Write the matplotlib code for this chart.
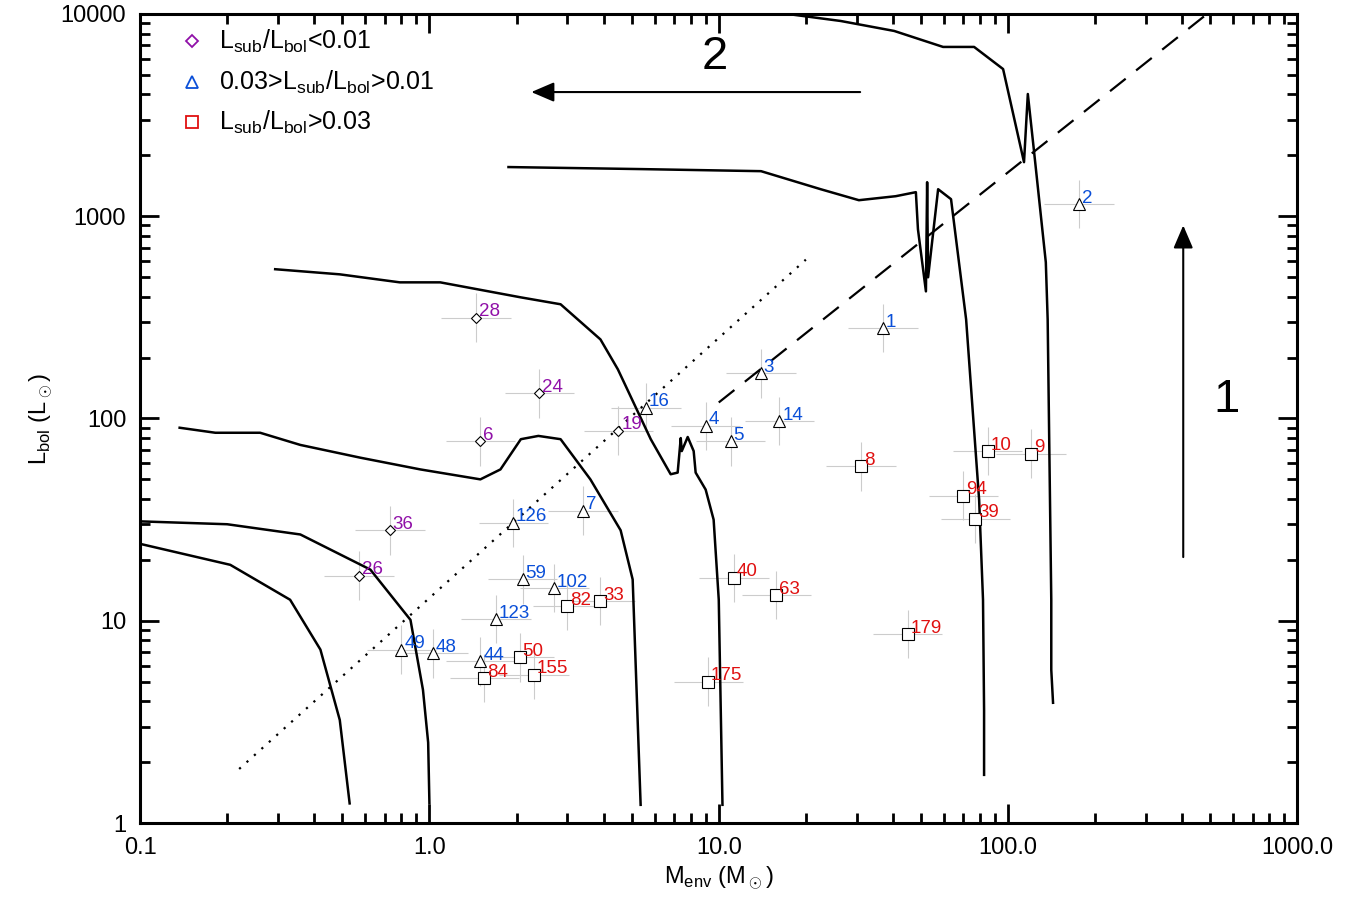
import numpy as np
import matplotlib.pyplot as plt
from matplotlib.ticker import NullFormatter

plt.rcParams['font.family'] = ['Liberation Sans', 'DejaVu Sans']
plt.rcParams['mathtext.fontset'] = 'custom'
plt.rcParams['mathtext.rm'] = 'Liberation Sans'

# sources, grouped by Lsub/Lbol
lo_id = ['28', '24', '6', '19', '36', '26']
lo_m = [1.45, 2.4, 1.5, 4.5, 0.73, 0.57]
lo_l = [315, 133, 77, 87, 28, 16.7]

mid_id = ['2', '1', '3', '16', '4', '5', '14', '7', '126', '59', '102', '123', '49', '48', '44']
mid_m = [176, 37, 14.0, 5.6, 9.0, 11.0, 16.2, 3.4, 1.95, 2.1, 2.7, 1.7, 0.8, 1.03, 1.5]
mid_l = [1150, 280, 167, 113, 92, 77, 97, 35, 30.5, 16, 14.5, 10.2, 7.2, 6.9, 6.3]

hi_id = ['10', '9', '8', '94', '39', '40', '63', '82', '33', '179', '50', '155', '84', '175']
hi_m = [85, 120, 31, 70, 77, 11.3, 15.8, 3.0, 3.9, 45, 2.05, 2.3, 1.55, 9.2]
hi_l = [69, 67, 58, 41.5, 32, 16.3, 13.4, 11.8, 12.5, 8.6, 6.6, 5.4, 5.2, 5.0]

# error bars (dex)
m_err = 0.12
l_err = 0.12

# evolutionary tracks
t1_m = [0.1, 0.2, 0.358, 0.625, 0.86, 0.95, 0.99, 1.0]
t1_l = [31, 30, 26.7, 17.9, 10.1, 4.55, 2.5, 1.25]
t2_m = [0.1, 0.205, 0.33, 0.42, 0.49, 0.53]
t2_l = [24, 18.9, 12.7, 7.2, 3.23, 1.25]
t3_m = [0.137, 0.182, 0.26, 0.358, 0.577, 0.93, 1.5, 1.76, 2.07, 2.38, 2.84, 3.6, 4.58, 5.04, 5.37]
t3_l = [90, 85, 85, 74, 64, 56, 50, 56, 79, 82, 79, 50, 28, 16, 1.23]
t4_m = [0.293, 0.49, 0.79, 1.09, 2.07, 2.84, 3.9, 4.48, 5.82, 6.82, 7.21, 7.39, 7.45, 7.81, 8.19,
        8.32, 9.01, 9.6, 10.0, 10.3]
t4_l = [547, 516, 471, 471, 397, 367, 246, 175, 79, 53, 54, 80, 69, 81, 69, 54, 44.5, 31.6, 12.7, 1.23]
t5_m = [1.876, 5.37, 14.0, 22.5, 30.5, 40.9, 48, 48.8, 52, 52.5, 52.9, 57.3, 63.5, 71.6, 79.4,
        81.9, 82.6, 82.6]
t5_l = [1750, 1710, 1670, 1360, 1200, 1256, 1315, 862, 425, 1473, 499, 1360, 1214, 309, 39.7,
        12.7, 3.6, 1.73]
t6_m = [8.66, 16.4, 26.4, 40.4, 59.6, 76.3, 96.1, 113.5, 117, 123, 135, 137, 141, 141, 143]
t6_l = [10590, 10100, 9230, 8240, 6870, 6870, 5340, 1850, 4020, 2075, 592, 309, 12.7, 5.72, 3.93]

dash_m = [10, 500]
dash_l = [120, 10300]
dot_m = [0.22, 20]
dot_l = [1.85, 610]

fig = plt.figure(figsize=(13.6, 9.06), dpi=100)
ax = fig.add_axes([0.103, 0.0916, 0.851, 0.893])
ax.set_xscale('log')
ax.set_yscale('log')
ax.set_xlim(0.1, 1000)
ax.set_ylim(1, 10000)

for m, l in [(t1_m, t1_l), (t2_m, t2_l), (t3_m, t3_l), (t4_m, t4_l), (t5_m, t5_l), (t6_m, t6_l)]:
    ax.plot(m, l, color='k', lw=1.8)
ax.plot(dash_m, dash_l, color='k', lw=1.6, dashes=(9, 6))
ax.plot(dot_m, dot_l, color='k', lw=1.6, ls=(0, (1, 3.5)))

groups = [(lo_id, lo_m, lo_l, 'D', 5, '#9010a8'),
          (mid_id, mid_m, mid_l, '^', 8, '#0a4fd8'),
          (hi_id, hi_m, hi_l, 's', 8, '#e01010')]
for ids, m, l, mk, ms, col in groups:
    m = np.array(m)
    l = np.array(l)
    xe = [m - m / 10**m_err, m * 10**m_err - m]
    ye = [l - l / 10**l_err, l * 10**l_err - l]
    ax.errorbar(m, l, xerr=xe, yerr=ye, fmt='none', ecolor='#cccccc', elinewidth=0.8, zorder=1)
    ax.plot(m, l, ls='none', marker=mk, ms=ms, mfc='white', mec='k', mew=0.8, zorder=3)
    for s, x, y in zip(ids, m, l):
        ax.annotate(s, (x, y), xytext=(2, 1), textcoords='offset points', color=col,
                    fontsize=13.5, zorder=4)

# legend
leg = [('D', '#9010a8', 6, r'L$_{\rm sub}$/L$_{\rm bol}$<0.01'),
       ('^', '#0a4fd8', 9, r'0.03>L$_{\rm sub}$/L$_{\rm bol}$>0.01'),
       ('s', '#e01010', 9, r'L$_{\rm sub}$/L$_{\rm bol}$>0.03')]
for i, (mk, col, ms, txt) in enumerate(leg):
    yy = 0.966 - i * 0.05
    ax.plot([0.045], [yy], transform=ax.transAxes, marker=mk, ms=ms, mfc='none', mec=col,
            mew=1.3, ls='none', clip_on=False)
    ax.text(0.068, yy, txt, transform=ax.transAxes, fontsize=18, va='center')

# arrows
ax.annotate('', xy=(2.2, 4110), xytext=(31.5, 4110),
            arrowprops=dict(arrowstyle='-|>,head_length=1.4,head_width=0.6', color='k', lw=1.5))
ax.text(9.7, 6100, '2', fontsize=34, ha='center', va='center')
ax.annotate('', xy=(403, 930), xytext=(403, 20),
            arrowprops=dict(arrowstyle='-|>,head_length=1.4,head_width=0.6', color='k', lw=1.5))
ax.text(568, 124, '1', fontsize=34, ha='center', va='center')

ax.set_xticks([0.1, 1, 10, 100, 1000])
ax.set_xticklabels(['0.1', '1.0', '10.0', '100.0', '1000.0'])
ax.set_yticks([1, 10, 100, 1000, 10000])
ax.set_yticklabels(['1', '10', '100', '1000', '10000'])
ax.yaxis.set_minor_formatter(NullFormatter())
ax.xaxis.set_minor_formatter(NullFormatter())
ax.tick_params(which='both', direction='in', top=True, right=True, labelsize=17, width=2)
ax.tick_params(which='major', length=14, pad=10)
ax.tick_params(which='minor', length=7)
for sp in ax.spines.values():
    sp.set_linewidth(2.2)
ax.set_xlabel(r'M$_{\rm env}$ (M$_\odot$)', fontsize=17)
ax.set_ylabel(r'L$_{\rm bol}$ (L$_\odot$)', fontsize=17)

fig.savefig('out.png', dpi=100)
